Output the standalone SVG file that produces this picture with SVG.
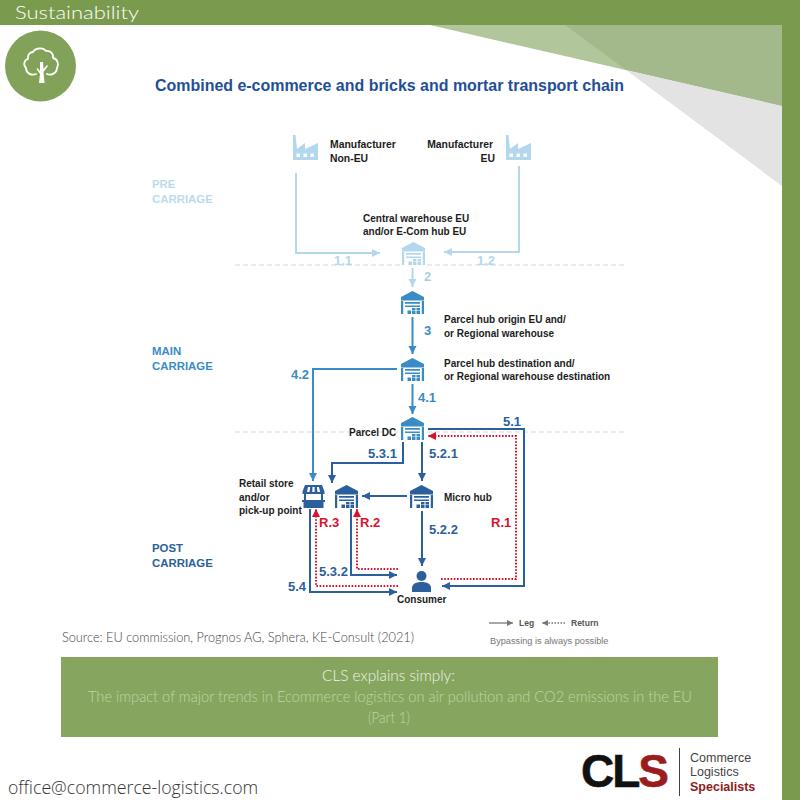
<svg xmlns="http://www.w3.org/2000/svg" width="800" height="800" viewBox="0 0 800 800">
<style>
text{font-family:"Liberation Sans",Arial,sans-serif}
.n{font-size:10px;font-weight:700;fill:#1c1c1c}
.c{font-size:11.4px;font-weight:700}
.l{font-size:13px;font-weight:700}
.thin{font-family:"Open Sans",sans-serif;font-weight:300}
.lato{font-family:"Lato","Open Sans",sans-serif;font-weight:300}
.ln{fill:none;stroke-width:2}
.pale{stroke:#b3d7ee}
.mid{stroke:#3a8cc6}
.dark{stroke:#2b5f9e}
.red{stroke:#d9112b;stroke-width:2;fill:none;stroke-dasharray:1.6 1.6}
.dash{stroke:#d8d8d8;stroke-width:1.2;stroke-dasharray:5 3;fill:none}
</style>
<defs>
<marker id="aPale" markerUnits="userSpaceOnUse" markerWidth="10" markerHeight="10" refX="8" refY="5" orient="auto"><path d="M0 1 8 5 0 9z" fill="#b3d7ee"/></marker>
<marker id="aMid" markerUnits="userSpaceOnUse" markerWidth="10" markerHeight="10" refX="8" refY="5" orient="auto"><path d="M0 1 8 5 0 9z" fill="#3a8cc6"/></marker>
<marker id="aDark" markerUnits="userSpaceOnUse" markerWidth="10" markerHeight="10" refX="8" refY="5" orient="auto"><path d="M0 1 8 5 0 9z" fill="#2b5f9e"/></marker>
<marker id="aRed" markerUnits="userSpaceOnUse" markerWidth="10" markerHeight="10" refX="8" refY="5" orient="auto"><path d="M0 1 8 5 0 9z" fill="#d9112b"/></marker>
<marker id="aGrey" markerUnits="userSpaceOnUse" markerWidth="8" markerHeight="8" refX="6" refY="4" orient="auto"><path d="M0 1 6 4 0 7z" fill="#777"/></marker>
<symbol id="wh" viewBox="0 0 23 23" width="23" height="23">
<path fill="currentColor" d="M0 6 11.500 0 23 6V9.500H0zM0 10h2.200v13H0zM20.800 10h2.200v13h-2.200zM4 11h15v1.800H4zM4 14.500h15v1.500H4zM6.500 19.500h3.500v3.500H6.500zM11 19.500h3.500v3.500H11zM15.500 19.500h3.500v3.500h-3.500zM11 17h3.500v2H11zM15.500 17h3.500v2h-3.500z"/>
</symbol>
<symbol id="fac" viewBox="0 0 25 25" width="25" height="25">
<path fill="#b3d7ee" d="M0 25V0h2.500L4 14l8-6v6l13-6v17z"/>
<path fill="#fff" d="M3.500 18.500h3.500v3.500H3.500zM10.500 18.500h3.500v3.500h-3.500zM17.500 18.500h3.500v3.500h-3.500z"/>
</symbol>
</defs>

<rect width="800" height="800" fill="#fff"/>
<polygon points="430,25 782,25 782,106" fill="#b1c69a"/>
<polygon points="565,25 782,25 782,106 626,70" fill="#a4b98b"/>
<polygon points="626,70 782,106 782,186" fill="#e3e3e3"/>
<rect width="800" height="25" fill="#7a9a4d"/>
<rect x="782" width="18" height="800" fill="#7a9a4d"/>
<text x="15" y="19" font-size="18.500" fill="#fff" class="lato" textLength="124" lengthAdjust="spacingAndGlyphs">Sustainability</text>
<circle cx="40.500" cy="66" r="35.500" fill="#82a25a"/>
<g fill="none" stroke="#fff" stroke-width="1.800" stroke-linejoin="round" stroke-linecap="round">
<path d="M36 74C31 76 26 73 26 68 23 65 24 60 28 59 27 55 30 52 33 52 35 48 43 47 46 51 50 50 54 54 53 58 58 59 59 65 57 68 57 73 51 76 47 74"/>
</g>
<path fill="#fff" d="M40 62H43L43.500 69 47 65 48 66 43.500 72 44.500 83H39L40 74 36.500 69 37.500 68 40 71Z"/>
<text x="155" y="91" font-size="16" font-weight="700" fill="#1f4f97" textLength="469" lengthAdjust="spacingAndGlyphs">Combined e-commerce and bricks and mortar transport chain</text>

<text class="c" fill="#bcdaee"><tspan x="152" y="188">PRE</tspan><tspan x="152" y="203">CARRIAGE</tspan></text>
<text class="c" fill="#3a8cc6"><tspan x="152" y="355">MAIN</tspan><tspan x="152" y="370">CARRIAGE</tspan></text>
<text class="c" fill="#2b5f9e"><tspan x="152" y="552">POST</tspan><tspan x="152" y="567">CARRIAGE</tspan></text>

<g id="connectors">
<path class="dash" d="M235 265H627M235 432H627"/>
<path class="ln pale" marker-end="url(#aPale)" d="M296 173V253H380"/>
<path class="ln pale" marker-end="url(#aPale)" d="M519 166V252H444"/>
<path class="ln pale" marker-end="url(#aPale)" d="M412.500 268V287"/>
<path class="ln mid" marker-end="url(#aMid)" d="M412.500 317V354"/>
<path class="ln mid" marker-end="url(#aMid)" d="M412.500 384V414"/>
<path class="ln mid" marker-end="url(#aMid)" d="M397 369H313V481"/>
<path class="ln dark" marker-end="url(#aDark)" d="M428 429H524V586H442"/>
<path class="ln dark" marker-end="url(#aDark)" d="M403 442V463H332V483"/>
<path class="ln dark" marker-end="url(#aDark)" d="M422 442V481"/>
<path class="ln dark" marker-end="url(#aDark)" d="M407 496H362"/>
<path class="ln dark" marker-end="url(#aDark)" d="M422 511V566"/>
<path class="ln dark" marker-end="url(#aDark)" d="M351 509V575H397"/>
<path class="ln dark" marker-end="url(#aDark)" d="M310 509V592H397"/>
<path class="red" marker-end="url(#aRed)" d="M441 579H516V436H428"/>
<path class="red" marker-end="url(#aRed)" d="M398 569H357V509"/>
<path class="red" marker-end="url(#aRed)" d="M398 586H316V509"/>
<g class="l">
<text x="334" y="265" fill="#b3d7ee">1.1</text>
<text x="477" y="265" fill="#b3d7ee">1.2</text>
<text x="424" y="281" fill="#a9cfe8">2</text>
<text x="424" y="335" fill="#3a8cc6">3</text>
<text x="418" y="402" fill="#3a8cc6">4.1</text>
<text x="291" y="379" fill="#3a8cc6">4.2</text>
<text x="503" y="426" fill="#2b5f9e">5.1</text>
<text x="429" y="458" fill="#2b5f9e">5.2.1</text>
<text x="368" y="458" fill="#2b5f9e">5.3.1</text>
<text x="429" y="534" fill="#2b5f9e">5.2.2</text>
<text x="319" y="576" fill="#2b5f9e">5.3.2</text>
<text x="288" y="591" fill="#2b5f9e">5.4</text>
<text x="491" y="527" fill="#d9112b">R.1</text>
<text x="360" y="527" fill="#d9112b">R.2</text>
<text x="319" y="527" fill="#d9112b">R.3</text>
</g>
</g>

<g id="manufacturer-non-eu"><use href="#fac" x="293" y="135"/><text class="n" style="font-size:10.400px"><tspan x="330" y="148">Manufacturer</tspan><tspan x="330" y="162">Non-EU</tspan></text></g>
<g id="manufacturer-eu"><use href="#fac" x="506" y="135"/><text class="n" text-anchor="end" style="font-size:10.400px"><tspan x="493" y="148">Manufacturer</tspan><tspan x="495" y="162">EU</tspan></text></g>
<g id="central-warehouse"><rect x="401" y="242" width="24" height="24" fill="#fff"/><use href="#wh" x="402" y="242" style="color:#b3d7ee"/><text class="n"><tspan x="363" y="222">Central warehouse EU</tspan><tspan x="363" y="235">and/or E-Com hub EU</tspan></text></g>
<g id="parcel-hub-origin"><use href="#wh" x="401" y="291" style="color:#3a8cc6"/><text class="n"><tspan x="444" y="323">Parcel hub origin EU and/</tspan><tspan x="444" y="337">or Regional warehouse</tspan></text></g>
<g id="parcel-hub-destination"><use href="#wh" x="401" y="358" style="color:#3a8cc6"/><text class="n"><tspan x="444" y="367">Parcel hub destination and/</tspan><tspan x="444" y="380">or Regional warehouse destination</tspan></text></g>
<g id="parcel-dc"><rect x="398" y="416" width="28" height="25" fill="#fff"/><use href="#wh" x="401" y="417" style="color:#3a8cc6"/><text class="n" x="349" y="436">Parcel DC</text></g>
<g id="micro-hub"><use href="#wh" x="410" y="485" style="color:#2b5f9e"/><text class="n" x="444" y="501">Micro hub</text></g>
<g id="depot"><use href="#wh" x="335" y="485" style="color:#2b5f9e"/></g>
<g id="retail-store">
<path fill="#2b5f9e" d="M305 485H322L324.500 491.500V494H302.500V491.500ZM304 494H306V500H321V494H323V500H325V502H323.500V508H303.500V502H302V500H304Z"/>
<path fill="#fff" d="M308 487h2.200l-.7 5h-2.500zM312.400 487h2.200v5h-2.200zM316.800 487h2.200l1 5h-2.500z"/>
<text class="n"><tspan x="239" y="487">Retail store</tspan><tspan x="239" y="501">and/or</tspan><tspan x="239" y="514">pick-up point</tspan></text>
</g>
<g id="consumer"><circle cx="421.500" cy="576" r="5" fill="#2b5f9e"/><path fill="#2b5f9e" d="M412 592V588C412 584 416 582 421.500 582S431 584 431 588V592Z"/><text class="n" x="397" y="603">Consumer</text></g>

<g id="legend">
<path d="M489 623H513" stroke="#777" stroke-width="1.300" marker-end="url(#aGrey)"/>
<text x="519" y="626" font-size="8.500" font-weight="700" fill="#555">Leg</text>
<path d="M565 623H542" stroke="#777" stroke-width="1.300" stroke-dasharray="1.500 1.500" marker-end="url(#aGrey)"/>
<text x="571" y="626" font-size="8.500" font-weight="700" fill="#555">Return</text>
<text x="490" y="644" font-size="9.200" fill="#777">Bypassing is always possible</text>
</g>

<text x="62" y="642" font-size="13.500" class="lato" fill="#444" textLength="352" lengthAdjust="spacingAndGlyphs">Source: EU commission, Prognos AG, Sphera, KE-Consult (2021)</text>
<rect x="61" y="657" width="657" height="80" fill="#86a65f"/>
<text x="322" y="681" font-size="15" fill="#eef4e6" class="lato" textLength="133" lengthAdjust="spacingAndGlyphs">CLS explains simply:</text>
<text x="88" y="702" font-size="15" fill="#bfd5a5" class="lato" textLength="604" lengthAdjust="spacingAndGlyphs">The impact of major trends in Ecommerce logistics on air pollution and CO2 emissions in the EU</text>
<text x="368" y="723" font-size="15" fill="#bfd5a5" class="lato" textLength="42" lengthAdjust="spacingAndGlyphs">(Part 1)</text>
<text x="8" y="794" font-size="17.700" class="thin" fill="#333">office@commerce-logistics.com</text>

<g id="logo">
<text x="581" y="787" font-size="46" font-weight="700" fill="#111" stroke="#111" stroke-width=".6" letter-spacing="-2">CL<tspan fill="#9b1c1c" stroke="#9b1c1c">S</tspan></text>
<path d="M679.500 748V796" stroke="#444" stroke-width="1"/>
<text x="690" y="762" font-size="12.500" fill="#444">Commerce</text>
<text x="690" y="776" font-size="12.500" fill="#444">Logistics</text>
<text x="690" y="791" font-size="12.500" font-weight="700" fill="#8f1a1a">Specialists</text>
</g>
</svg>
